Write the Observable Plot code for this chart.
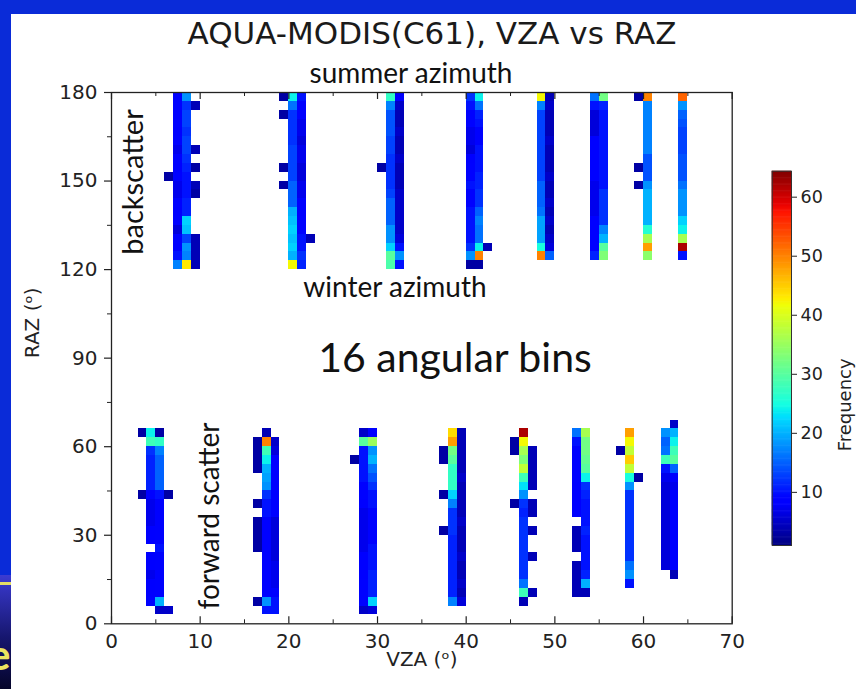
<!DOCTYPE html>
<html><head><meta charset="utf-8">
<script src="https://cdn.jsdelivr.net/npm/d3@7"></script>
<script src="https://cdn.jsdelivr.net/npm/@observablehq/plot@0.6"></script>
<style>
body{margin:0;}
#page{position:relative;width:856px;height:689px;background:#0a2bd8;overflow:hidden;}
#panel{position:absolute;left:11px;top:14px;right:0;bottom:0;background:#fff;}
#strip{position:absolute;left:0;top:575px;width:11px;height:114px;overflow:hidden;background:linear-gradient(#3b3bd2,#16166e 55%,#05052a);}
.note{position:absolute;transform:translate(-50%,-50%);line-height:1;white-space:nowrap;color:#111;font-family:Lato,"Open Sans",sans-serif;}
.vnote{transform:translate(-50%,-50%) rotate(-90deg);}
#chart,#cbar{position:absolute;}
</style></head><body>
<div id="page">
  <div id="panel"></div>
  <div id="strip">
    <div style="position:absolute;left:0;top:7px;width:11px;height:3px;background:#e4dc66"></div>
    <div style="position:absolute;left:-12px;top:58px;font:bold 42px Lato;color:#ece460;line-height:1">e</div>
  </div>
  <div id="chart" style="left:0;top:0"></div>
  <div id="cbar" style="left:740px;top:150px"></div>
  <div class="note" style="left:432px;top:33px;font-family:'DejaVu Sans';font-size:31px;color:#1a1a1a">AQUA-MODIS(C61), VZA vs RAZ</div>
  <div class="note" style="left:411px;top:72px;font-size:28px">summer azimuth</div>
  <div class="note" style="left:395px;top:286px;font-size:28px">winter azimuth</div>
  <div class="note" style="left:455px;top:356px;font-size:41px">16 angular bins</div>
  <div class="note vnote" style="left:131px;top:182px;font-size:29px">backscatter</div>
  <div class="note vnote" style="left:208px;top:516px;font-size:28px">forward scatter</div>
</div>
<script>
// ---- tick labels ----
const vzaTicks = [0, 10, 20, 30, 40, 50, 60, 70];
const vzaMinorTicks = [5, 15, 25, 35, 45, 55, 65];
const razTicks = [0, 30, 60, 90, 120, 150, 180];
const razMinorTicks = [15, 45, 75, 105, 135, 165];
const freqTicks = [10, 20, 30, 40, 50, 60];

// ---- data: [VZA bin start (1 deg bins), RAZ of first 3-deg bin, frequencies upward (null = empty)] ----
const backscatterColumns = [
  [6, 150, [3]],
  [7, 120, [17,10,8,9,6,9,8,9,7,7,9,8,9,7,9,8,9,8,9,9]],
  [8, 120, [43,17,18,13,21,22,11,11,10,10,10,11,12,13,13,12,13,13,12,18]],
  [9, 120, [4,4,4,4,null,null,null,null,3,4,null,3,null,4,null,null,null,null,4]],
  [19, 147, [3,null,3,null,null,null,null,null,3,null,3]],
  [20, 120, [42,20,22,21,22,21,20,15,15,15,13,13,13,13,12,12,12,12,16,24]],
  [21, 120, [11,12,10,10,9,9,8,8,7,7,6,6,7,7,6,7,7,8,9,10]],
  [22, 129, [4]],
  [30, 153, [3]],
  [31, 120, [29,30,22,18,18,15,15,15,13,12,12,12,12,13,13,14,14,14,17,27]],
  [32, 120, [10,18,10,6,5,5,5,5,5,4,4,4,5,4,4,5,4,4,5,8]],
  [40, 120, [3,18,12,10,10,10,10,9,9,10,9,9,8,6,7,7,9,9,10,12]],
  [41, 120, [3,50,24,16,16,17,15,12,12,11,11,10,10,10,9,9,10,11,16,24]],
  [42, 126, [4]],
  [48, 123, [50,25,19,19,19,16,15,15,15,13,13,13,13,13,13,13,13,17,42]],
  [49, 123, [15,6,5,4,5,4,5,4,4,5,4,4,4,5,4,4,4,5,4]],
  [54, 123, [11,8,8,8,8,7,7,7,7,9,9,9,9,9,6,6,6,10,16]],
  [55, 123, [33,30,20,17,12,12,12,12,10,10,10,10,10,10,10,10,10,11,32]],
  [59, 147, [3,null,3,null,null,null,null,null,null,null,3]],
  [60, 123, [34,48,36,26,20,20,20,20,18,14,14,14,17,17,17,17,17,17,50]],
  [64, 123, [10,62,36,24,22,18,18,18,16,14,14,14,13,13,13,14,15,18,52]]
];
const forwardScatterColumns = [
  [3, 42, [3,null,null,null,null,null,null,3]],
  [4, 6, [9,8,8,7,8,8,null,8,8,7,7,7,9,11,11,11,11,12,28,24]],
  [5, 3, [5,20,9,9,9,9,9,10,9,9,9,9,9,10,15,15,15,15,17,27,3]],
  [6, 3, [5,null,null,null,null,null,null,null,null,null,null,null,null,3]],
  [16, 6, [3,null,null,null,null,null,3,3,3,3,null,3,null,null,null,3,3,3,3]],
  [17, 3, [10,18,9,9,9,9,9,9,9,9,9,10,10,12,18,19,20,24,28,50,4]],
  [18, 3, [10,10,8,7,7,7,6,6,6,6,6,8,8,8,9,9,9,8,6,5]],
  [27, 54, [3]],
  [28, 3, [5,9,9,9,8,8,8,7,7,7,7,7,8,9,9,10,10,10,10,30,5]],
  [29, 3, [6,22,11,11,11,10,10,10,9,9,9,9,10,10,12,14,16,20,18,35,9]],
  [37, 30, [3,null,null,null,3,null,null,null,3,3]],
  [38, 6, [17,11,11,11,11,11,11,11,12,12,12,17,22,27,27,27,30,32,48,44]],
  [39, 6, [6,4,5,4,4,5,4,4,4,5,4,4,4,4,5,4,4,4,4,4]],
  [45, 39, [3,null,null,null,null,null,3,3]],
  [46, 6, [4,28,16,12,12,12,12,12,12,12,11,12,18,23,28,38,33,36,42,62]],
  [47, 9, [4,null,null,null,4,null,null,4,null,4,4,null,4,4,4,4,4]],
  [52, 9, [4,4,4,4,null,4,4,4,null,8,8,8,8,9,9,9,9,10,16]],
  [53, 9, [4,20,11,10,10,10,10,11,10,10,10,11,12,24,30,31,32,32,36]],
  [57, 57, [3]],
  [58, 12, [10,18,16,12,12,12,12,12,12,12,12,18,25,38,45,38,42,48]],
  [59, 48, [3]],
  [62, 18, [6,6,6,6,6,6,6,6,6,6,7,10,28,16,15,18]],
  [63, 15, [4,8,8,8,8,8,8,8,8,8,7,8,15,30,28,24,20,5]]
];

// ---- jet colormap (matplotlib segment definition) ----
function seg(t, pts) {
  for (let i = 1; i < pts.length; i++) {
    if (t <= pts[i][0]) {
      const [t0, v0] = pts[i - 1], [t1, v1] = pts[i];
      return v0 + (v1 - v0) * (t - t0) / (t1 - t0);
    }
  }
  return pts[pts.length - 1][1];
}
function jet(t) {
  t = Math.max(0, Math.min(1, t));
  const r = seg(t, [[0,0],[0.35,0],[0.66,1],[0.89,1],[1,0.5]]);
  const g = seg(t, [[0,0],[0.125,0],[0.375,1],[0.64,1],[0.91,0],[1,0]]);
  const b = seg(t, [[0,0.5],[0.11,1],[0.34,1],[0.65,0],[1,0]]);
  return `rgb(${Math.round(r*255)},${Math.round(g*255)},${Math.round(b*255)})`;
}
const colorScale = {type: "linear", domain: [1, 64.4], interpolate: jet};

const cells = [...backscatterColumns, ...forwardScatterColumns].flatMap(([vza, raz0, freqs]) =>
  freqs.map((freq, i) => ({vza, raz: raz0 + 3 * i, freq})).filter(d => d.freq != null));

const W = 856, H = 689;
const M = {top: 92, right: 124.3, bottom: 65.7, left: 111};
const ty = px => px * 180 / (H - M.top - M.bottom);
const tx = px => px * 70 / (W - M.left - M.right);

const chart = Plot.plot({
  width: W, height: H,
  marginTop: M.top, marginRight: M.right, marginBottom: M.bottom, marginLeft: M.left,
  x: {domain: [0, 70]},
  y: {domain: [0, 180]},
  color: colorScale,
  style: {fontFamily: "DejaVu Sans", fontSize: "20px", color: "#222", background: "transparent", overflow: "visible"},
  marks: [
    Plot.rect(cells, {x1: "vza", x2: d => d.vza + 1, y1: "raz", y2: d => d.raz + 3, fill: "freq", shapeRendering: "crispEdges"}),
    Plot.frame({stroke: "#222", strokeWidth: 1.3}),
    Plot.axisX({ticks: vzaTicks, tickSize: 0, tickPadding: 9.5, label: null}),
    Plot.axisY({ticks: razTicks, tickSize: 0, tickPadding: 14, label: null}),
    Plot.ruleX(vzaTicks, {x: d => d, y1: 0, y2: ty(7), stroke: "#222", strokeWidth: 1.2}),
    Plot.ruleX(vzaMinorTicks, {x: d => d, y1: 0, y2: ty(4), stroke: "#222", strokeWidth: 1}),
    Plot.ruleX(vzaTicks, {x: d => d, y1: 180, y2: 180 - ty(7), stroke: "#222", strokeWidth: 1.2}),
    Plot.ruleX(vzaMinorTicks, {x: d => d, y1: 180, y2: 180 - ty(4), stroke: "#222", strokeWidth: 1}),
    Plot.ruleY(razTicks, {y: d => d, x1: 0, x2: -tx(7), stroke: "#222", strokeWidth: 1.2}),
    Plot.ruleY(razMinorTicks, {y: d => d, x1: 0, x2: -tx(4), stroke: "#222", strokeWidth: 1}),
    Plot.text(["VZA (\u1D52)"], {frameAnchor: "bottom", dy: 42, fontSize: 20, fill: "#222"}),
    Plot.text(["RAZ (\u1D52)"], {frameAnchor: "left", dx: -79, rotate: -90, fontSize: 20, fill: "#222"})
  ]
});
document.getElementById("chart").append(chart);

// ---- colour bar ----
const step = 0.2;
const bands = d3.range(1, 64.4, step);
const cbar = Plot.plot({
  width: 116, height: 420,
  marginLeft: 31.7, marginRight: 65, marginTop: 20.7, marginBottom: 25,
  x: {domain: [0, 1], axis: null},
  y: {domain: [1, 64.4], axis: null},
  color: colorScale,
  style: {fontFamily: "DejaVu Sans", fontSize: "17.5px", color: "#222", background: "transparent", overflow: "visible"},
  marks: [
    Plot.rect(bands, {x1: 0, x2: 1, y1: d => d, y2: d => Math.min(64.4, d + step * 1.5), fill: d => d + step / 2}),
    Plot.frame({stroke: "#333", strokeWidth: 1}),
    Plot.axisY({anchor: "right", ticks: freqTicks, tickSize: 5, tickPadding: 4, label: null}),
    Plot.text(["Frequency"], {frameAnchor: "right", dx: 54, rotate: -90, fontSize: 18, fill: "#222"})
  ]
});
document.getElementById("cbar").append(cbar);
</script>
</body></html>
